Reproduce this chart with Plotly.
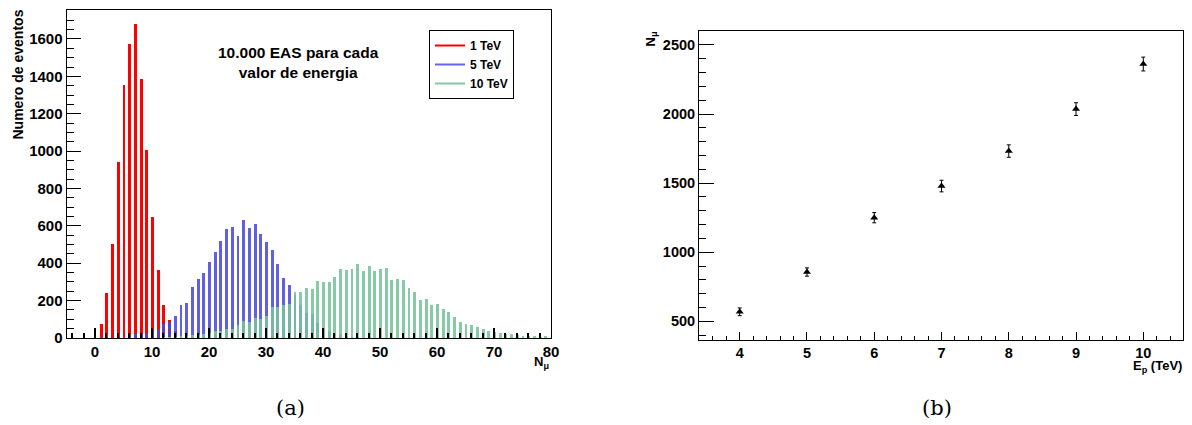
import plotly.graph_objects as go

W, H = 1192, 425
OFF = 8  # default page body margin of the html page

# ---------------- data: left histogram ----------------
red_x = list(range(1, 16))
red_y = [73, 241, 505, 940, 1352, 1575, 1679, 1386, 1004, 648, 362, 175, 96, 35, 12]

blue_x = list(range(5, 47))
blue_y = [5, 12, 20, 22, 28, 38, 46, 73, 85, 118, 175, 189, 271, 314, 349, 406, 460,
          521, 582, 596, 548, 634, 587, 608, 557, 516, 473, 398, 319, 283, 230, 176,
          135, 128, 78, 52, 40, 28, 20, 12, 8, 5]

green_x = list(range(12, 80))
green_y = [3, 5, 8, 10, 12, 18, 16, 22, 28, 36, 40, 48, 48, 68, 91, 85, 108, 100, 119,
           164, 165, 176, 180, 245, 245, 266, 261, 305, 300, 301, 324, 368, 363, 367,
           394, 360, 386, 360, 370, 377, 310, 318, 313, 268, 245, 203, 208, 176, 181,
           154, 141, 110, 83, 75, 68, 60, 49, 38, 30, 28, 21, 19, 14, 10, 10, 9, 8, 9]

series_names = ["1 TeV", "5 TeV", "10 TeV"]

# ---------------- data: right plot ----------------
energy = [4, 5, 6, 7, 8, 9, 10]
n_mu = [569, 857, 1250, 1479, 1732, 2036, 2362]
n_mu_err = [28, 30, 37, 42, 45, 46, 50]

RED = "rgb(255,0,0)"
BLUE = "rgba(70,70,222,0.86)"
GREEN = "rgba(118,196,154,0.88)"
FONT = "Liberation Sans"


def px_x(p):
    return (p - OFF) / W


def px_y(p):
    return 1 - (p - OFF) / H


fig = go.Figure()

bw = 0.5
fig.add_trace(go.Bar(x=red_x, y=red_y, width=bw, marker=dict(color=RED, line=dict(width=0)),
                     showlegend=False, xaxis="x", yaxis="y"))
fig.add_trace(go.Bar(x=blue_x, y=blue_y, width=bw, marker=dict(color=BLUE, line=dict(width=0)),
                     showlegend=False, xaxis="x", yaxis="y"))
fig.add_trace(go.Bar(x=green_x, y=green_y, width=bw, marker=dict(color=GREEN, line=dict(width=0)),
                     showlegend=False, xaxis="x", yaxis="y"))

# legend entries as lines
for name, col in zip(series_names, ["rgb(255,0,0)", "rgb(100,100,235)", "rgb(130,200,165)"]):
    fig.add_trace(go.Scatter(x=[None], y=[None], mode="lines", name=name,
                             line=dict(color=col, width=2), xaxis="x", yaxis="y"))

fig.add_trace(go.Scatter(
    x=energy, y=n_mu, mode="markers", showlegend=False,
    marker=dict(symbol="triangle-up", size=7, color="black"),
    error_y=dict(type="data", array=n_mu_err, visible=True, color="black", thickness=1, width=2),
    xaxis="x2", yaxis="y2"))

axis_common = dict(showline=True, linecolor="black", linewidth=1, mirror=True,
                   showgrid=False, zeroline=False, ticks="inside", tickcolor="black",
                   automargin=False)

fig.update_layout(
    width=W, height=H,
    margin=dict(l=0, r=0, t=0, b=0, autoexpand=False),
    paper_bgcolor="white", plot_bgcolor="white",
    barmode="overlay",
    bargap=0,
    xaxis=dict(domain=[px_x(66.5), px_x(551)], range=[-5, 80], tick0=0, dtick=10,
               ticklen=10, tickwidth=1.5,
               tickfont=dict(family=FONT, size=15, color="black", weight="bold"),
               minor=dict(dtick=2, tick0=0, ticks="inside", ticklen=5, tickcolor="black", showgrid=False),
               anchor="y", **axis_common),
    yaxis=dict(domain=[px_y(338), px_y(10)], range=[0, 1755], tick0=0, dtick=200,
               ticklen=14,
               tickfont=dict(family=FONT, size=15, color="black", weight="bold"),
               minor=dict(dtick=50, tick0=0, ticks="inside", ticklen=7, tickcolor="black", showgrid=False),
               anchor="x", **axis_common),
    xaxis2=dict(domain=[px_x(699), px_x(1183)], range=[3.395, 10.59], tick0=4, dtick=1,
                ticklen=8,
                tickfont=dict(family=FONT, size=14.5, color="black", weight="bold"),
                minor=dict(dtick=0.2, tick0=4, ticks="inside", ticklen=4, tickcolor="black", showgrid=False),
                anchor="y2", **axis_common),
    yaxis2=dict(domain=[px_y(340), px_y(31)], range=[365, 2601], tick0=500, dtick=500,
                ticklen=15,
                tickfont=dict(family=FONT, size=14.5, color="black", weight="bold"),
                minor=dict(dtick=100, tick0=0, ticks="inside", ticklen=7, tickcolor="black", showgrid=False),
                anchor="x2", **axis_common),
    legend=dict(x=px_x(429), y=px_y(30), xanchor="left", yanchor="top",
                bgcolor="white", bordercolor="black", borderwidth=1,
                font=dict(family=FONT, size=12, color="black", weight="bold"),
                tracegroupgap=0, itemwidth=30),
    showlegend=True,
)

ann = []
ann.append(dict(text="<b>Numero de eventos</b>", x=px_x(17.5), y=px_y(8), xref="paper", yref="paper",
                xanchor="center", yanchor="top", textangle=-90, showarrow=False,
                font=dict(family=FONT, size=14, color="black")))
ann.append(dict(text="<b>N<sub>μ</sub></b>", x=px_x(551), y=px_y(352), xref="paper", yref="paper",
                xanchor="right", yanchor="top", showarrow=False,
                font=dict(family=FONT, size=13, color="black")))
ann.append(dict(text="<b>10.000 EAS para cada<br>valor de energia</b>", x=px_x(298.5), y=px_y(42),
                xref="paper", yref="paper", xanchor="center", yanchor="top", showarrow=False,
                font=dict(family=FONT, size=15.5, color="black")))
ann.append(dict(text="<b>N<sub>μ</sub></b>", x=px_x(651), y=px_y(30), xref="paper", yref="paper",
                xanchor="center", yanchor="top", textangle=-90, showarrow=False,
                font=dict(family=FONT, size=13, color="black")))
ann.append(dict(text="<b>E<sub>p</sub> (TeV)</b>", x=px_x(1184), y=px_y(356), xref="paper", yref="paper",
                xanchor="right", yanchor="top", showarrow=False,
                font=dict(family=FONT, size=13, color="black")))
ann.append(dict(text="(a)", x=px_x(290), y=px_y(408), xref="paper", yref="paper",
                xanchor="center", yanchor="middle", showarrow=False,
                font=dict(family="DejaVu Serif", size=21, color="black")))
ann.append(dict(text="(b)", x=px_x(937), y=px_y(408), xref="paper", yref="paper",
                xanchor="center", yanchor="middle", showarrow=False,
                font=dict(family="DejaVu Serif", size=21, color="black")))
fig.update_layout(annotations=ann)

fig.write_html("out.html")
